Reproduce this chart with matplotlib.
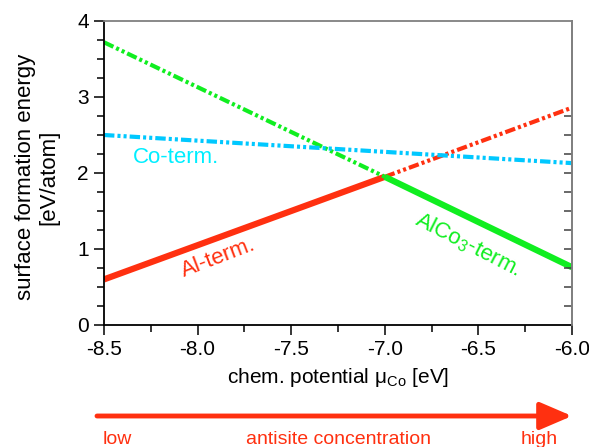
import matplotlib
matplotlib.use("Agg")
import matplotlib.pyplot as plt
from matplotlib.ticker import MultipleLocator, FixedLocator

plt.rcParams['font.family'] = ['Liberation Sans', 'DejaVu Sans']
plt.rcParams['mathtext.fontset'] = 'custom'
plt.rcParams['mathtext.rm'] = 'Liberation Sans'
plt.rcParams['mathtext.it'] = 'Liberation Sans'
plt.rcParams['lines.scale_dashes'] = False

# chemical potential of Co [eV]
mu_full = [-8.5, -6.0]
mu_low = [-8.5, -7.0]
mu_high = [-7.0, -6.0]

# surface formation energies [eV/atom]
al_low = [0.60, 1.95]
al_high = [1.95, 2.86]
alco3_low = [3.72, 1.95]
alco3_high = [1.95, 0.76]
co_full = [2.50, 2.13]

x_ticks = [-8.5, -8.0, -7.5, -7.0, -6.5, -6.0]
x_ticklabels = ['-8.5', '-8.0', '-7.5', '-7.0', '-6.5', '-6.0']
y_ticks = [0, 1, 2, 3, 4]
right_ticks = [0.25, 0.5, 0.75, 1.0, 1.25, 1.5, 1.75, 2.0, 2.25, 2.5, 2.75]

red = '#ff3010'
green = '#10ee20'
cyan = '#00c8ff'
cyan_txt = '#00eeff'
dashdotdot = (0, (7.5, 2.2, 2.2, 2.2, 2.2, 2.2))

fig = plt.figure(figsize=(5.89, 4.47), dpi=100)
ax = fig.add_axes([104/589, 1 - 325/447, 468/589, 304/447])

# thermodynamically stable parts drawn solid, the rest dash-dot-dot
ax.plot(mu_low, al_low, color=red, lw=4.5, solid_capstyle='butt')
ax.plot(mu_high, al_high, color=red, lw=3, linestyle=dashdotdot, dash_capstyle='butt')
ax.plot(mu_low, alco3_low, color=green, lw=3, linestyle=dashdotdot, dash_capstyle='butt')
ax.plot(mu_high, alco3_high, color=green, lw=4.5, solid_capstyle='butt')
ax.plot(mu_full, co_full, color=cyan, lw=3, linestyle=dashdotdot, dash_capstyle='butt')

ax.text(-8.115, 2.21, 'Co-term.', color=cyan_txt, fontsize=16, ha='center', va='center')
ax.text(-7.89, 0.88, 'Al-term.', color=red, fontsize=16, ha='center', va='center', rotation=21)
ax.text(-6.556, 1.05, 'AlCo$_3$-term.', color=green, fontsize=16, ha='center', va='center',
        rotation=-27)

ax.set_xlim(-8.5, -6.0)
ax.set_ylim(0, 4)
ax.set_xticks(x_ticks)
ax.set_xticklabels(x_ticklabels)
ax.set_yticks(y_ticks)
ax.xaxis.set_minor_locator(MultipleLocator(0.25))
ax.yaxis.set_minor_locator(MultipleLocator(0.25))
ax.tick_params(which='both', direction='out', labelsize=15, width=1.1, top=False, right=False)
ax.tick_params(which='major', length=7)
ax.tick_params(which='minor', length=5)
ax.tick_params(axis='y', pad=4)

for side in ['left', 'bottom']:
    ax.spines[side].set_linewidth(1.3)
    ax.spines[side].set_color('black')
for side in ['top', 'right']:
    ax.spines[side].set_linewidth(1.3)
    ax.spines[side].set_color('#808080')

# right-hand axis only carries inward ticks
ax2 = ax.twinx()
ax2.set_ylim(0, 4)
ax2.yaxis.set_major_locator(FixedLocator(right_ticks))
ax2.tick_params(axis='y', direction='in', length=6, width=1.1, color='#404040', labelright=False)
for side in ['left', 'bottom', 'top']:
    ax2.spines[side].set_visible(False)
ax2.spines['right'].set_color('#808080')
ax2.spines['right'].set_linewidth(1.3)

ax.set_xlabel('chem. potential $\\mathrm{\u03bc}_{\\mathrm{Co}}$ [eV]', fontsize=15, labelpad=5)
ax.set_ylabel('surface formation energy\n[eV/atom]', fontsize=16, linespacing=1.15, va='center')
ax.yaxis.set_label_coords(-0.143, 0.487)

# antisite concentration arrow under the plot
ax.annotate('', xy=(572, 31), xytext=(97, 31), xycoords='figure pixels',
            textcoords='figure pixels',
            arrowprops=dict(arrowstyle='-|>,head_length=1.4,head_width=0.6', color=red,
                            lw=3.5, shrinkA=0, shrinkB=0, mutation_scale=14))
fig.text(103/589, 3/447, 'low', color=red, fontsize=14, ha='left', va='baseline')
fig.text(338/589, 3/447, 'antisite concentration', color=red, fontsize=14, ha='center',
         va='baseline')
fig.text(558/589, 3/447, 'high', color=red, fontsize=14, ha='right', va='baseline')

fig.savefig('out.png', dpi=100)
